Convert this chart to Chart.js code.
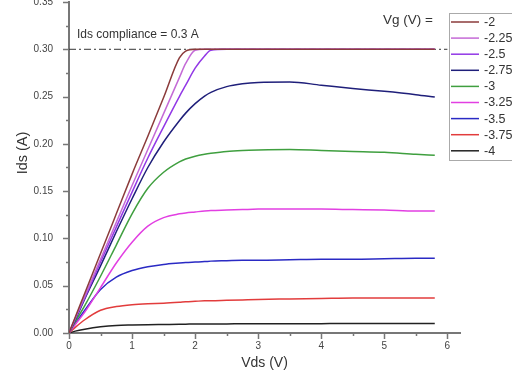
<!DOCTYPE html>
<html><head><meta charset="utf-8">
<script src="https://cdn.jsdelivr.net/npm/chart.js@4/dist/chart.umd.min.js"></script>
<style>html,body{margin:0;padding:0;background:#fff;overflow:hidden}#wrap{position:relative;width:512px;height:377px}</style>
</head><body><div id="wrap"><canvas id="c" width="512" height="377"></canvas></div>
<script>
// ---- data ----
const vds = [0, 0.1, 0.25, 0.5, 0.75, 1.0, 1.25, 1.5, 1.75, 1.85, 2.0, 2.15, 2.25, 2.5, 2.75, 3.0, 3.5, 4.0, 4.5, 5.0, 5.5, 5.8];
const vgLabels = ['-2', '-2.25', '-2.5', '-2.75', '-3', '-3.25', '-3.5', '-3.75', '-4'];
const idsVg2    = [0, .017, .042, .084, .126, .168, .208, .249, .291, .298, .300, .300, .300, .300, .300, .300, .300, .300, .300, .300, .300, .300];
const idsVg225  = [0, .016, .039, .078, .117, .156, .194, .232, .270, .285, .299, .300, .300, .300, .300, .300, .300, .300, .300, .300, .300, .300];
const idsVg25   = [0, .015, .037, .075, .112, .149, .185, .218, .250, .262, .280, .293, .299, .300, .300, .300, .300, .300, .300, .300, .300, .300];
const idsVg275  = [0, .014, .036, .071, .107, .142, .175, .202, .2245, .2325, .2425, .2505, .2545, .2605, .2635, .265, .2655, .262, .2585, .2555, .252, .2495];
const idsVg3    = [0, .012, .029, .060, .093, .126, .153, .170, .181, .184, .187, .189, .190, .192, .193, .1935, .194, .193, .192, .191, .189, .188];
const idsVg325  = [0, .009, .022, .048, .074, .096, .113, .122, .126, .127, .128, .129, .1295, .130, .1305, .131, .131, .131, .1305, .130, .129, .129];
const idsVg35   = [0, .010, .024, .046, .059, .066, .070, .0725, .074, .0745, .075, .0755, .076, .0765, .077, .077, .0775, .078, .078, .0785, .079, .079];
const idsVg375  = [0, .006, .014, .024, .028, .030, .031, .0315, .0325, .033, .0335, .034, .034, .0345, .035, .0355, .036, .0365, .037, .037, .037, .037];
const idsVg4    = [0, .002, .004, .0065, .008, .0085, .0088, .009, .0092, .0093, .0095, .0095, .0096, .0096, .0097, .0097, .0098, .0099, .010, .010, .010, .010];
const complianceVds = [0, 6];
const complianceIds = [0.3, 0.3];
const xTicks = [0, 1, 2, 3, 4, 5, 6];
const yTicks = [0, 0.05, 0.10, 0.15, 0.20, 0.25, 0.30, 0.35];

// ---- styles ----
const seriesColors = ['#8b3b3b', '#c46ad6', '#9238e6', '#1f1f7a', '#3f9f3f', '#e23fe2', '#2a2ac4', '#e23c3c', '#222222'];
const allSeries = [idsVg2, idsVg225, idsVg25, idsVg275, idsVg3, idsVg325, idsVg35, idsVg375, idsVg4];
const FONT = '"Liberation Sans", Arial, sans-serif';

const datasets = allSeries.map((arr, i) => ({
  label: vgLabels[i],
  data: vds.map((x, k) => ({x: x, y: arr[k]})),
  borderColor: seriesColors[i],
  borderWidth: 1.5,
  pointRadius: 0,
  fill: false,
  cubicInterpolationMode: 'monotone'
}));
datasets.push({
  label: 'compliance',
  data: complianceVds.map((x, k) => ({x: x, y: complianceIds[k]})),
  borderColor: '#333333',
  borderWidth: 1,
  borderDash: [7, 3, 2, 3],
  pointRadius: 0,
  fill: false,
  order: 10
});

const decor = {
  id: 'decor',
  afterDraw(chart) {
    const ctx = chart.ctx;
    const xs = chart.scales.x, ys = chart.scales.y;
    const a = chart.chartArea;
    ctx.save();
    // ticks (major + minor)
    ctx.strokeStyle = '#777';
    ctx.lineWidth = 1.5;
    for (let i = 0; i <= 12; i++) {
      const v = i * 0.5;
      const px = Math.round(xs.getPixelForValue(v)) + 0.5;
      const len = (i % 2 === 0) ? 6 : 3;
      ctx.beginPath(); ctx.moveTo(px, a.bottom); ctx.lineTo(px, a.bottom + len); ctx.stroke();
    }
    for (let i = 0; i <= 14; i++) {
      const v = i * 0.025;
      const py = Math.round(ys.getPixelForValue(v)) + 0.5;
      const len = (i % 2 === 0) ? 6 : 3;
      ctx.beginPath(); ctx.moveTo(a.left, py); ctx.lineTo(a.left - len, py); ctx.stroke();
    }
    // y axis title
    ctx.fillStyle = '#333';
    ctx.font = '14.5px ' + FONT;
    ctx.textAlign = 'center'; ctx.textBaseline = 'middle';
    ctx.translate(23, 153); ctx.rotate(-Math.PI / 2);
    ctx.fillText('Ids (A)', 0, 0);
    ctx.setTransform(1, 0, 0, 1, 0, 0);
    // annotation
    ctx.font = '12px ' + FONT;
    ctx.textAlign = 'left';
    ctx.fillText('Ids compliance = 0.3 A', 77, 35);
    ctx.font = '13.5px ' + FONT;
    ctx.fillText('Vg (V) =', 383, 20);
    // legend
    const lx = 449.5, ly = 13.5;
    ctx.fillStyle = '#fff';
    ctx.fillRect(lx, ly, 80, 147);
    ctx.strokeStyle = '#aaa'; ctx.lineWidth = 1;
    ctx.strokeRect(lx, ly, 80, 147);
    ctx.font = '12.5px ' + FONT;
    chart.data.datasets.slice(0, vgLabels.length).forEach((ds, i) => {
      const y = 22 + i * 16.1;
      ctx.strokeStyle = ds.borderColor; ctx.lineWidth = 1.5;
      ctx.beginPath(); ctx.moveTo(451, y); ctx.lineTo(479, y); ctx.stroke();
      ctx.fillStyle = '#333';
      ctx.fillText(ds.label, 484, y + 0.5);
    });
    ctx.restore();
  }
};

new Chart(document.getElementById('c'), {
  type: 'line',
  data: {datasets: datasets},
  options: {
    responsive: false,
    animation: false,
    devicePixelRatio: 1,
    layout: {padding: {top: 2, right: 52, bottom: 0, left: 0}},
    plugins: {legend: {display: false}, tooltip: {enabled: false}},
    scales: {
      x: {
        type: 'linear', min: 0, max: 6.2,
        afterBuildTicks: s => { s.ticks = xTicks.map(v => ({value: v})); },
        ticks: {padding: 7, color: '#444', font: {size: 10, family: FONT}, callback: v => String(v)},
        grid: {display: false, drawTicks: false},
        border: {color: '#777', width: 2},
        title: {display: true, text: 'Vds (V)', color: '#333', font: {size: 14, family: FONT}, padding: {top: 5, bottom: 5}},
        afterFit: s => { s.height = 44; s.paddingLeft = 0; s.paddingRight = 0; }
      },
      y: {
        type: 'linear', min: 0, max: 0.35,
        afterBuildTicks: s => { s.ticks = yTicks.map(v => ({value: v})); },
        ticks: {padding: 16, color: '#444', font: {size: 10, family: FONT}, callback: v => Number(v).toFixed(2)},
        grid: {display: false, drawTicks: false},
        border: {color: '#777', width: 2},
        afterFit: s => { s.width = 69; s.paddingTop = 0; s.paddingBottom = 0; }
      }
    }
  },
  plugins: [decor]
});
</script>
</body></html>
